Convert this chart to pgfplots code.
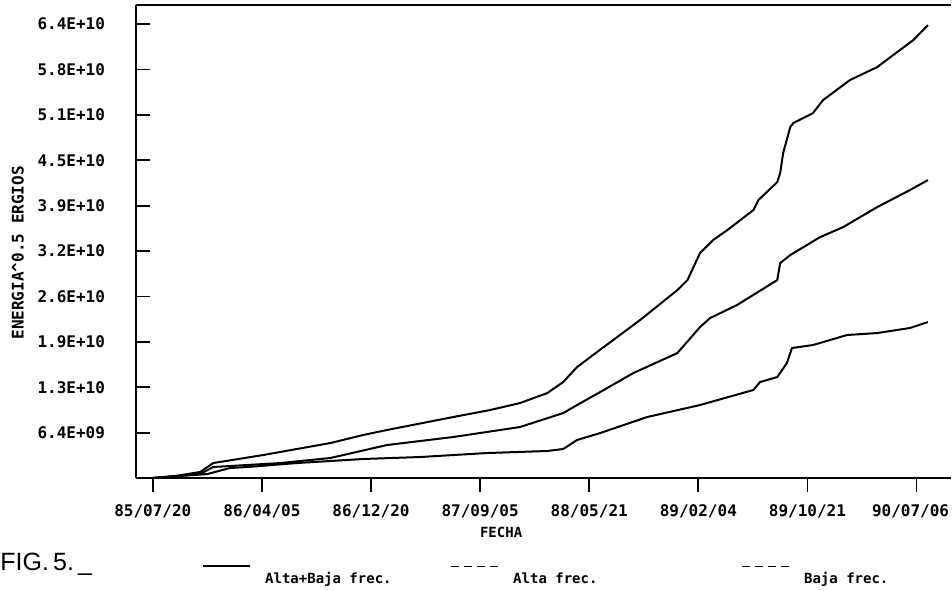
\documentclass[border=0pt]{standalone}
\usepackage{fontspec}
\setmainfont{DejaVu Sans Mono}
\newfontfamily\figfont{Liberation Sans}
\usepackage{pgfplots}
\pgfplotsset{compat=1.18}

% x: days since 85/07/20, y: energy^0.5 in units of 1E+09
\begin{document}
\begin{tikzpicture}
\begin{axis}[
    scale only axis,
    width=407.5pt, height=236.5pt,
    xmin=-40, xmax=1902,
    ymin=0, ymax=66.7,
    axis x line*=box, axis y line*=left,
    axis line style={-, line width=0.9pt},
    xtick={0,260,520,780,1040,1300,1560,1820},
    xticklabels={85/07/20,86/04/05,86/12/20,87/09/05,88/05/21,89/02/04,89/10/21,\kern-6pt 90/07/06},
    ytick={6.4,12.8,19.2,25.6,32,38.4,44.8,51.2,57.6,64},
    yticklabels={6.4E+09,1.3E+10,1.9E+10,2.6E+10,3.2E+10,3.9E+10,4.5E+10,5.1E+10,5.8E+10,6.4E+10},
    xtick pos=bottom, ytick pos=left,
    xtick align=outside, ytick align=inside,
    major tick length=7pt,
    tick style={line width=0.9pt, black},
    ticklabel style={font=\bfseries\fontsize{8}{9}\selectfont},
    xticklabel style={yshift=-3pt},
    yticklabel style={xshift=-12pt},
    xlabel={FECHA},
    xlabel style={at={(axis description cs:0.448,-0.114)}, anchor=center, font=\bfseries\fontsize{7}{8}\selectfont},
    ylabel={ENERGIA\textasciicircum0.5 ERGIOS},
    ylabel style={at={(axis description cs:-0.145,0.476)}, anchor=center, font=\bfseries\fontsize{8}{9}\selectfont},
    legend columns=3,
    legend style={draw=none, fill=none, inner sep=0pt,
        at={(axis description cs:0.081,-0.184)}, anchor=north west,
        font=\bfseries\fontsize{7}{8}\selectfont,
        /tikz/column 1/.style={column sep=5pt},
        /tikz/column 2/.style={column sep=27.5pt},
        /tikz/column 3/.style={column sep=5pt},
        /tikz/column 4/.style={column sep=70pt},
        /tikz/column 5/.style={column sep=5pt}},
    legend image code/.code={\draw[#1] (0pt,6.5pt) -- (23.5pt,6.5pt);},
]
\coordinate (O) at (rel axis cs:0,0);

% Alta+Baja frec.
\addplot[black, line width=1pt, forget plot] coordinates {
(0,0) (53,0.28) (113,0.85) (144,2.11) (263,3.24) (423,4.93) (501,6.06)
(558,6.77) (716,8.60) (804,9.59) (875,10.57) (940,11.98) (978,13.53)
(1011,15.65) (1049,17.34) (1161,22.27) (1250,26.50) (1274,27.91)
(1304,31.72) (1335,33.55) (1369,34.96) (1431,37.78) (1443,39.19)
(1488,41.73) (1495,43.00) (1502,45.82) (1519,49.48) (1526,50.04)
(1573,51.45) (1597,53.29) (1661,56.11) (1726,57.94) (1764,59.63)
(1812,61.74) (1847,63.86)};

% Alta frec.
\addplot[black, line width=1pt, forget plot] coordinates {
(0,0) (113,0.56) (144,1.55) (304,2.11) (423,2.82) (558,4.65) (716,5.78)
(875,7.19) (978,9.16) (1011,10.29) (1066,12.12) (1145,14.80)
(1250,17.62) (1304,21.29) (1328,22.56) (1392,24.39) (1488,27.91)
(1495,30.31) (1519,31.44) (1590,33.97) (1645,35.38) (1726,38.20)
(1804,40.60) (1847,42.01)};

% Baja frec.
\addplot[black, line width=1pt, forget plot] coordinates {
(0,0) (130,0.56) (184,1.41) (225,1.55) (344,2.11) (501,2.68) (637,2.96)
(796,3.52) (940,3.81) (978,4.09) (1011,5.36) (1066,6.34) (1178,8.60)
(1304,10.29) (1431,12.41) (1447,13.53) (1488,14.24) (1511,16.21)
(1523,18.33) (1573,18.75) (1654,20.16) (1726,20.44) (1804,21.15)
(1847,21.99)};

\addlegendimage{black, line width=0.9pt}
\addlegendentry{Alta+Baja frec.}
\addlegendimage{black, line width=0.8pt, dash pattern=on 4pt off 2.5pt}
\addlegendentry{Alta frec.}
\addlegendimage{black, line width=0.8pt, dash pattern=on 4pt off 2.5pt}
\addlegendentry{Baja frec.}
\end{axis}
\node[anchor=base west, inner sep=0pt, font=\figfont\fontsize{12.5}{14}\selectfont]
    at ([shift={(-68pt,-46pt)}]O) {FIG.\,5.\,\_};
\pgfresetboundingbox
\path[use as bounding box] ([shift={(-68pt,-56pt)}]O) rectangle ([shift={(408pt,239pt)}]O);
\end{tikzpicture}
\end{document}
